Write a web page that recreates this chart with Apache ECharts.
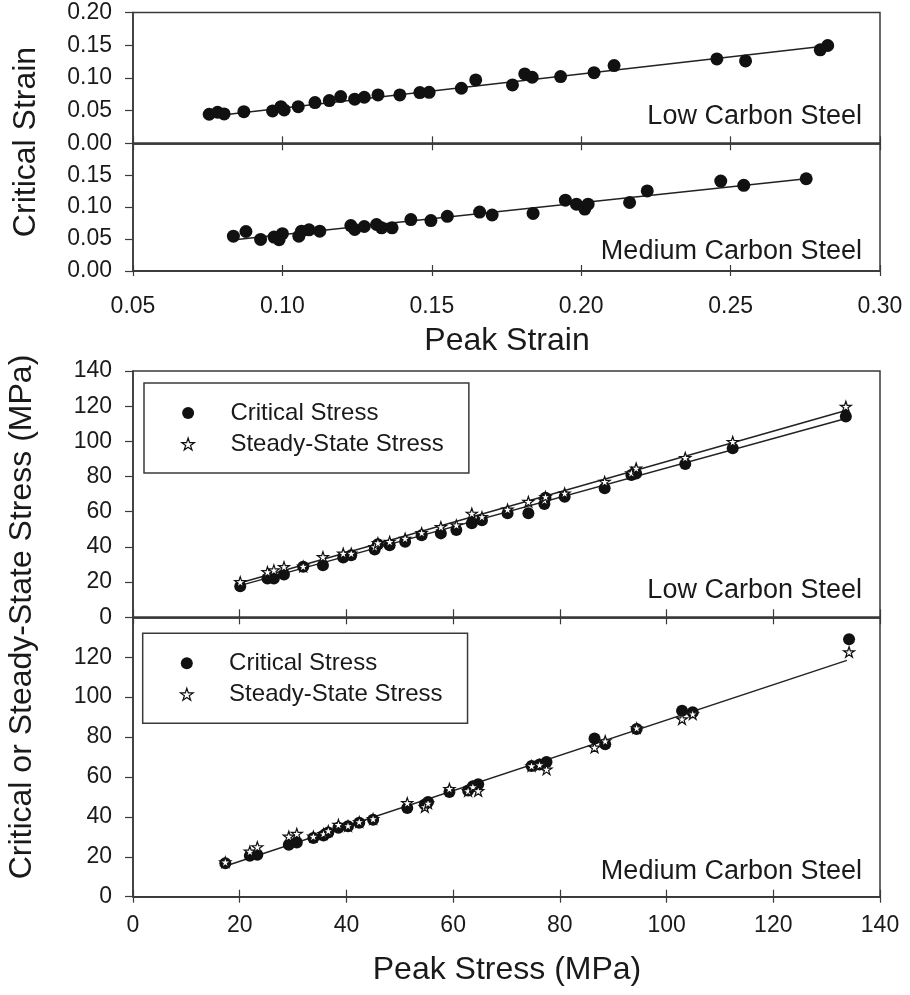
<!DOCTYPE html>
<html>
<head>
<meta charset="utf-8">
<script src="https://cdn.jsdelivr.net/npm/echarts@6/dist/echarts.min.js"></script>
<style>html,body{margin:0;padding:0;background:#fff}#c{width:910px;height:995px}</style>
</head>
<body>
<div id="c"></div>
<script>
// ---- Strain data (Peak Strain vs Critical Strain) ----
var lcStrainPeak = [0.0755,0.0783,0.0805,0.0871,0.0967,0.0995,0.1006,0.1053,0.1109,0.1157,0.1195,0.1242,0.1274,0.1320,0.1393,0.1460,0.1491,0.1599,0.1647,0.1770,0.1811,0.1836,0.1931,0.2043,0.2110,0.2454,0.2550,0.2800,0.2825];
var lcStrainCrit = [0.0444,0.0475,0.0449,0.0484,0.0495,0.0560,0.0510,0.0560,0.0622,0.0653,0.0714,0.0674,0.0704,0.0740,0.0740,0.0775,0.0780,0.0842,0.0969,0.0893,0.1061,0.1010,0.1020,0.1080,0.1188,0.1290,0.1260,0.1429,0.1495];
var mcStrainPeak = [0.0836,0.0878,0.0927,0.0972,0.0989,0.1000,0.1055,0.1064,0.1089,0.1125,0.1229,0.1242,0.1274,0.1315,0.1332,0.1367,0.1430,0.1497,0.1552,0.1660,0.1702,0.1839,0.1947,0.1984,0.2012,0.2023,0.2162,0.2221,0.2467,0.2544,0.2753];
var mcStrainCrit = [0.0546,0.0619,0.0495,0.0531,0.0490,0.0584,0.0546,0.0624,0.0645,0.0624,0.0712,0.0650,0.0697,0.0728,0.0676,0.0676,0.0805,0.0790,0.0856,0.0923,0.0877,0.0902,0.1110,0.1047,0.0970,0.1047,0.1073,0.1254,0.1409,0.1342,0.1445];
var lcStrainFitX = [0.0755, 0.2825], lcStrainFitY = [0.041, 0.149];
var mcStrainFitX = [0.084, 0.2753], mcStrainFitY = [0.049, 0.1445];

// ---- Stress data (MPa) ----
var lcStressPeak  = [20.1,25.2,26.4,28.3,31.9,35.6,39.4,40.9,45.3,45.9,48.1,51.0,54.1,57.7,60.6,63.5,65.4,70.2,74.1,77.1,77.3,80.9,88.4,93.4,94.3,103.5,112.4,133.6];
var lcCritical    = [17.7,22.0,22.0,24.3,28.7,29.6,34.0,35.3,38.6,41.5,41.0,42.9,46.7,47.7,49.6,53.4,55.2,59.1,59.1,64.4,68.0,68.5,73.3,80.9,81.8,87.1,96.1,114.1];
var lcSteady      = [20.1,25.8,26.8,28.7,28.9,34.3,36.3,36.3,40.0,42.3,43.0,44.8,48.0,51.4,52.4,59.0,57.1,61.3,65.7,66.5,68.5,70.5,77.1,82.0,84.7,90.7,99.8,119.8];
var mcStressPeak  = [17.3,21.9,23.3,29.2,30.7,33.8,35.7,36.6,38.5,40.3,42.4,45.0,51.4,54.7,55.3,59.3,62.8,63.7,64.7,74.7,76.2,77.5,86.5,88.5,94.4,102.9,104.9,134.2];
var mcCritical    = [16.8,20.5,21.0,26.0,27.2,29.4,30.7,32.2,34.5,35.3,37.0,38.6,44.5,46.2,47.4,52.4,53.2,55.4,56.3,65.5,66.3,67.5,79.3,76.4,84.0,93.2,92.4,129.0];
var mcSteady      = [17.3,22.7,24.9,30.2,31.6,30.2,31.5,33.0,36.1,35.5,37.5,39.0,47.0,45.0,46.8,54.1,53.0,55.0,53.0,65.5,66.0,63.8,74.8,78.0,84.5,89.0,91.5,122.6];
var lcCritFitX = [20, 133.6], lcCritFitY = [18, 113];
var lcSteadyFitX = [20, 133.6], lcSteadyFitY = [19.5, 117.5];
var mcFitX = [17.5, 133.8], mcFitY = [15.5, 118.4];

// ---- axis tick settings ----
var strainXTicks = [0.05, 0.10, 0.15, 0.20, 0.25, 0.30];
var stressXTicks = [0, 20, 40, 60, 80, 100, 120, 140];

function pairs(xs, ys) { return xs.map(function (x, i) { return [x, ys[i]]; }); }

var FONT = "'Liberation Sans', Arial, Helvetica, sans-serif";
var INK = '#1a1a1a';
var AX = '#3a3a3a';
var STAR = 'path://M50,0 L61.2,34.5 L97.6,34.5 L68.2,55.9 L79.4,90.5 L50,69.1 L20.6,90.5 L31.8,55.9 L2.4,34.5 L38.8,34.5 Z';

var grids = [
  { left: 133, right: 30, top: 12.5, height: 130.8 },
  { left: 133, right: 30, top: 143.3, height: 127.7 },
  { left: 133, right: 30, top: 371, height: 246.3 },
  { left: 133, right: 30, top: 617.3, height: 279.4 }
];
grids.forEach(function (g) { g.show = true; g.borderColor = AX; g.borderWidth = 1.5; g.backgroundColor = 'transparent'; });

function xAx(grid, isStrain, pos, showLabels, tickInside, tickLen) {
  return {
    type: 'value', gridIndex: grid, position: pos,
    min: isStrain ? strainXTicks[0] : stressXTicks[0],
    max: isStrain ? strainXTicks[strainXTicks.length - 1] : stressXTicks[stressXTicks.length - 1],
    interval: isStrain ? 0.05 : 20,
    axisLine: { show: true, onZero: false, lineStyle: { color: AX, width: 1.5 } },
    axisTick: { show: true, inside: tickInside, length: tickLen, lineStyle: { color: AX, width: 1.2 } },
    splitLine: { show: false },
    axisLabel: {
      show: showLabels, margin: isStrain ? 24 : 17, color: INK, fontSize: 23, fontFamily: FONT,
      formatter: function (v) { return isStrain ? v.toFixed(2) : String(Math.round(v)); }
    }
  };
}
function yAx(grid, isStrain, hideMax) {
  return {
    type: 'value', gridIndex: grid,
    min: 0, max: isStrain ? 0.20 : 140, interval: isStrain ? 0.05 : 20,
    axisLine: { show: true, onZero: false, lineStyle: { color: AX, width: 1.5 } },
    axisTick: { show: true, inside: false, length: 8, lineStyle: { color: AX, width: 1.2 } },
    splitLine: { show: false },
    axisLabel: {
      show: true, margin: 21, color: INK, fontSize: 23, fontFamily: FONT,
      showMaxLabel: !hideMax, showMinLabel: true,
      formatter: function (v) { return isStrain ? v.toFixed(2) : String(Math.round(v)); }
    }
  };
}

var xAxes = [
  xAx(0, true, 'bottom', false, true, 7),   // 0
  xAx(1, true, 'bottom', true, false, 5),   // 1
  xAx(1, true, 'top', false, true, 7),      // 2
  xAx(1, true, 'bottom', false, true, 6),   // 3
  xAx(2, false, 'bottom', false, true, 8),  // 4
  xAx(3, false, 'bottom', true, false, 6),  // 5
  xAx(3, false, 'top', false, true, 7),     // 6
  xAx(3, false, 'bottom', false, true, 7)   // 7
];
var yAxes = [yAx(0, true, false), yAx(1, true, true), yAx(2, false, false), yAx(3, false, true)];

function fitLine(xi, yi, xs, ys, z) {
  return { type: 'line', xAxisIndex: xi, yAxisIndex: yi, data: pairs(xs, ys), symbol: 'none', silent: true,
    lineStyle: { color: '#222', width: 1.5 }, z: z || 2, animation: false };
}
function dots(name, xi, yi, xs, ys, size) {
  return { name: name, type: 'scatter', xAxisIndex: xi, yAxisIndex: yi, data: pairs(xs, ys),
    symbol: 'circle', symbolSize: size, itemStyle: { color: '#111', opacity: 1 }, z: 3, animation: false };
}
function stars(name, xi, yi, xs, ys) {
  return { name: name, type: 'scatter', xAxisIndex: xi, yAxisIndex: yi, data: pairs(xs, ys),
    symbol: STAR, symbolSize: 11, symbolKeepAspect: true,
    itemStyle: { color: '#fff', borderColor: '#111', borderWidth: 1.2, opacity: 1 }, z: 4, animation: false };
}

var series = [
  fitLine(0, 0, lcStrainFitX, lcStrainFitY),
  dots('lcStrain', 0, 0, lcStrainPeak, lcStrainCrit, 13),
  fitLine(1, 1, mcStrainFitX, mcStrainFitY),
  dots('mcStrain', 1, 1, mcStrainPeak, mcStrainCrit, 13),
  fitLine(4, 2, lcCritFitX, lcCritFitY),
  fitLine(4, 2, lcSteadyFitX, lcSteadyFitY),
  dots('Critical Stress', 4, 2, lcStressPeak, lcCritical, 12),
  stars('Steady-State Stress', 4, 2, lcStressPeak, lcSteady),
  fitLine(5, 3, mcFitX, mcFitY),
  dots('Critical Stress', 5, 3, mcStressPeak, mcCritical, 12),
  stars('Steady-State Stress', 5, 3, mcStressPeak, mcSteady)
];

function legendAt(left, top) {
  return {
    show: true, orient: 'vertical', left: left, top: top,
    padding: [15, 25, 14, 37.2], itemGap: 1, itemWidth: 74.6, itemHeight: 12,
    borderColor: AX, borderWidth: 1.5, backgroundColor: '#fff', selectedMode: false,
    textStyle: { color: INK, fontSize: 24, fontFamily: FONT, lineHeight: 30 },
    data: [
      { name: 'Critical Stress', icon: 'circle', itemStyle: { color: '#111' } },
      { name: 'Steady-State Stress', icon: STAR, itemStyle: { color: '#fff', borderColor: '#111', borderWidth: 1.2 } }
    ]
  };
}

function txt(str, x, y, size, align, rot) {
  return { type: 'text', x: x, y: y, rotation: rot || 0, z: 10, silent: true,
    style: { text: str, fill: INK, fontSize: size, fontFamily: FONT,
      align: align, textAlign: align, verticalAlign: 'middle', textVerticalAlign: 'middle' } };
}

var option = {
  animation: false,
  backgroundColor: '#fff',
  grid: grids,
  xAxis: xAxes,
  yAxis: yAxes,
  legend: [legendAt(144, 383), legendAt(142.7, 633.3)],
  series: series,
  graphic: [
    txt('Low Carbon Steel', 862, 117, 27, 'right'),
    txt('Medium Carbon Steel', 862, 251.5, 27, 'right'),
    txt('Low Carbon Steel', 862, 591, 27, 'right'),
    txt('Medium Carbon Steel', 862, 872, 27, 'right'),
    txt('Peak Strain', 507, 341, 32, 'center'),
    txt('Peak Stress (MPa)', 507, 970, 32, 'center'),
    txt('Critical Strain', 26, 142, 32, 'center', Math.PI / 2),
    txt('Critical or Steady-State Stress (MPa)', 22, 617, 32, 'center', Math.PI / 2)
  ]
};

var chart = echarts.init(document.getElementById('c'), null, { renderer: 'canvas' });
chart.setOption(option);
</script>
</body>
</html>
